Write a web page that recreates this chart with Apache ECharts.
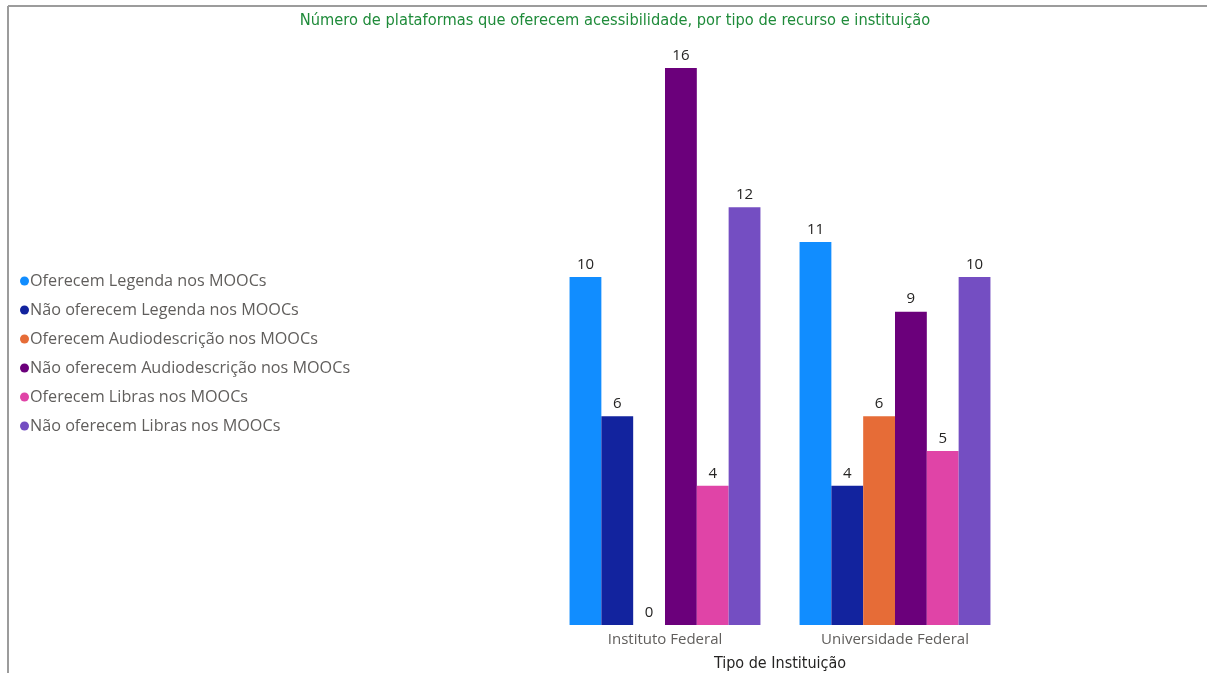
<!DOCTYPE html>
<html>
<head>
<meta charset="utf-8">
<script src="https://cdn.jsdelivr.net/npm/echarts@6/dist/echarts.min.js"></script>
<style>
  html, body { margin: 0; padding: 0; background: #fff; }
  #chart { width: 1207px; height: 673px; }
</style>
</head>
<body>
<div id="chart"></div>
<script>
// Institution types on the x axis
const categories = ['Instituto Federal', 'Universidade Federal'];

// Platforms per accessibility resource
const seriesNames = [
  'Oferecem Legenda nos MOOCs',
  'Não oferecem Legenda nos MOOCs',
  'Oferecem Audiodescrição nos MOOCs',
  'Não oferecem Audiodescrição nos MOOCs',
  'Oferecem Libras nos MOOCs',
  'Não oferecem Libras nos MOOCs'
];
const legendaSim = [10, 11];
const legendaNao = [6, 4];
const audioSim = [0, 6];
const audioNao = [16, 9];
const librasSim = [4, 5];
const librasNao = [12, 10];

const palette = ['#118DFF', '#12239E', '#E66C37', '#6B007B', '#E044A7', '#744EC2'];
const values = [legendaSim, legendaNao, audioSim, audioNao, librasSim, librasNao];

const font = '"Segoe UI", "Open Sans", "Noto Sans", sans-serif';
const titleFont = '"DejaVu Sans Condensed", "Roboto", sans-serif';

const chart = echarts.init(document.getElementById('chart'));
chart.setOption({
  animation: false,
  color: palette,
  title: {
    text: 'Número de plataformas que oferecem acessibilidade, por tipo de recurso e instituição',
    left: 610, top: 8, textAlign: 'center',
    textStyle: { color: '#1F8B3A', fontFamily: titleFont, fontSize: 16.3, fontWeight: 'normal' }
  },
  legend: {
    orient: 'vertical',
    left: 15, top: 266,
    icon: 'circle',
    itemWidth: 9, itemHeight: 9,
    itemGap: 9,
    textStyle: { color: '#605E5C', fontFamily: font, fontSize: 16.2, lineHeight: 20, padding: [0, 0, 0, -4] },
    data: seriesNames
  },
  grid: { left: 550, width: 460, top: 68, height: 557, outerBoundsMode: 'none', containLabel: false },
  xAxis: {
    type: 'category',
    data: categories,
    name: 'Tipo de Instituição',
    nameLocation: 'middle',
    nameGap: 31,
    nameTextStyle: { color: '#252423', fontFamily: titleFont, fontSize: 16 },
    axisLine: { show: false },
    axisTick: { show: false },
    axisLabel: { color: '#605E5C', fontFamily: font, fontSize: 15, margin: 7 }
  },
  yAxis: {
    type: 'value', min: 0, max: 16, show: false,
    splitLine: { show: false }
  },
  graphic: [
    { type: 'line', shape: { x1: 8, y1: 6, x2: 1207, y2: 6 }, style: { stroke: '#9C9C9C', lineWidth: 2 } },
    { type: 'line', shape: { x1: 8, y1: 6, x2: 8, y2: 673 }, style: { stroke: '#9C9C9C', lineWidth: 2 } }
  ],
  series: seriesNames.map((name, i) => ({
    name: name,
    type: 'bar',
    data: values[i],
    barGap: '0%',
    barCategoryGap: '17%',
    itemStyle: { color: palette[i] },
    label: {
      show: true, position: 'top', distance: 5,
      color: '#252423', fontFamily: font, fontSize: 15
    }
  }))
});
</script>
</body>
</html>
